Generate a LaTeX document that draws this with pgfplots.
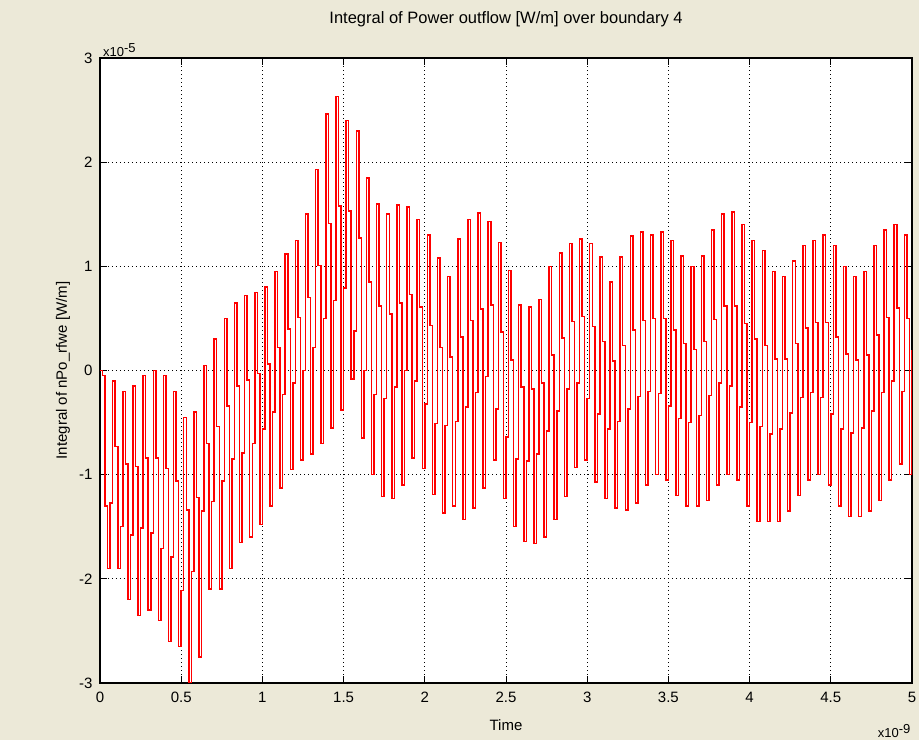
\documentclass[border=0pt]{standalone}
\usepackage{pgfplots}
\pgfplotsset{compat=1.18}
\usepackage{pgfplotstable}
\usepackage{fontspec}
\setmainfont{Liberation Sans}
\definecolor{panel}{HTML}{ECE9D8}
\newcommand{\lbl}{\fontsize{15bp}{18bp}\selectfont}
\newcommand{\ttl}{\fontsize{16.5bp}{19bp}\selectfont}
\newcommand{\smalllbl}{\fontsize{13bp}{15bp}\selectfont}

% Integral of outflow, one sample every 1/64 ns (4 samples per 62.5 ps cycle), in units of 1e-5 W/m
\pgfplotstableread[row sep=\\, header=false]{
0\\ -0.05\\ -1.3\\ -1.9\\
-1.27\\ -0.1\\ -0.73\\ -1.9\\
-1.5\\ -0.2\\ -0.9\\ -2.2\\
-1.58\\ -0.15\\ -0.92\\ -2.35\\
-1.51\\ -0.05\\ -0.84\\ -2.3\\
-1.56\\ 0.0\\ -0.84\\ -2.4\\
-1.71\\ -0.05\\ -0.94\\ -2.6\\
-1.79\\ -0.2\\ -1.06\\ -2.65\\
-2.11\\ -0.45\\ -1.34\\ -3.0\\
-1.93\\ -0.4\\ -1.22\\ -2.75\\
-1.35\\ 0.05\\ -0.7\\ -2.1\\
-1.26\\ 0.3\\ -0.54\\ -2.1\\
-1.06\\ 0.5\\ -0.34\\ -1.9\\
-0.85\\ 0.65\\ -0.15\\ -1.65\\
-0.79\\ 0.72\\ -0.09\\ -1.6\\
-0.7\\ 0.75\\ -0.03\\ -1.48\\
-0.56\\ 0.8\\ 0.06\\ -1.3\\
-0.4\\ 0.95\\ 0.22\\ -1.13\\
-0.23\\ 1.12\\ 0.4\\ -0.95\\
-0.12\\ 1.25\\ 0.51\\ -0.86\\
0.0\\ 1.5\\ 0.7\\ -0.8\\
0.22\\ 1.93\\ 1.01\\ -0.7\\
0.5\\ 2.46\\ 1.41\\ -0.55\\
0.67\\ 2.63\\ 1.58\\ -0.38\\
0.79\\ 2.4\\ 1.53\\ -0.08\\
0.38\\ 2.3\\ 1.27\\ -0.65\\
0.0\\ 1.85\\ 0.85\\ -1.0\\
-0.23\\ 1.6\\ 0.62\\ -1.21\\
-0.27\\ 1.5\\ 0.54\\ -1.23\\
-0.16\\ 1.59\\ 0.65\\ -1.1\\
0.0\\ 1.57\\ 0.73\\ -0.84\\
-0.1\\ 1.45\\ 0.61\\ -0.94\\
-0.32\\ 1.3\\ 0.43\\ -1.19\\
-0.51\\ 1.08\\ 0.22\\ -1.37\\
-0.53\\ 0.9\\ 0.13\\ -1.3\\
-0.49\\ 1.26\\ 0.32\\ -1.43\\
-0.35\\ 1.45\\ 0.48\\ -1.32\\
-0.21\\ 1.51\\ 0.59\\ -1.13\\
-0.06\\ 1.43\\ 0.63\\ -0.86\\
-0.37\\ 1.23\\ 0.37\\ -1.23\\
-0.64\\ 0.96\\ 0.1\\ -1.5\\
-0.85\\ 0.63\\ -0.16\\ -1.64\\
-0.87\\ 0.61\\ -0.18\\ -1.66\\
-0.8\\ 0.68\\ -0.12\\ -1.6\\
-0.58\\ 1.0\\ 0.15\\ -1.43\\
-0.39\\ 1.13\\ 0.31\\ -1.21\\
-0.18\\ 1.22\\ 0.47\\ -0.93\\
-0.12\\ 1.26\\ 0.52\\ -0.86\\
-0.27\\ 1.22\\ 0.42\\ -1.07\\
-0.42\\ 1.09\\ 0.28\\ -1.23\\
-0.56\\ 0.85\\ 0.09\\ -1.32\\
-0.49\\ 1.09\\ 0.24\\ -1.34\\
-0.37\\ 1.29\\ 0.39\\ -1.27\\
-0.25\\ 1.33\\ 0.48\\ -1.1\\
-0.2\\ 1.3\\ 0.5\\ -1.0\\
-0.22\\ 1.33\\ 0.5\\ -1.05\\
-0.34\\ 1.25\\ 0.39\\ -1.2\\
-0.46\\ 1.1\\ 0.26\\ -1.3\\
-0.5\\ 1.0\\ 0.2\\ -1.3\\
-0.43\\ 1.1\\ 0.28\\ -1.25\\
-0.24\\ 1.35\\ 0.49\\ -1.1\\
-0.12\\ 1.5\\ 0.62\\ -1.0\\
-0.15\\ 1.52\\ 0.62\\ -1.05\\
-0.35\\ 1.4\\ 0.45\\ -1.3\\
-0.5\\ 1.25\\ 0.3\\ -1.45\\
-0.54\\ 1.15\\ 0.24\\ -1.45\\
-0.61\\ 0.95\\ 0.11\\ -1.45\\
-0.56\\ 0.9\\ 0.11\\ -1.35\\
-0.41\\ 1.05\\ 0.26\\ -1.2\\
-0.26\\ 1.2\\ 0.41\\ -1.05\\
-0.21\\ 1.25\\ 0.46\\ -1.0\\
-0.26\\ 1.3\\ 0.46\\ -1.1\\
-0.42\\ 1.2\\ 0.32\\ -1.3\\
-0.56\\ 1.0\\ 0.16\\ -1.4\\
-0.6\\ 0.9\\ 0.1\\ -1.4\\
-0.55\\ 0.95\\ 0.15\\ -1.35\\
-0.39\\ 1.2\\ 0.34\\ -1.25\\
-0.21\\ 1.35\\ 0.51\\ -1.05\\
-0.1\\ 1.4\\ 0.6\\ -0.9\\
-0.2\\ 1.3\\ 0.5\\ -1.0\\
0.2\\
}\outflow

\begin{document}
\begin{tikzpicture}[x=1bp,y=1bp]
% window panel behind the plot
\fill[panel] (-100,-57) rectangle (819,683);
\path[use as bounding box] (-100,-57) rectangle (819,683);
\begin{axis}[
  at={(0,0)}, anchor=south west,
  scale only axis, width=812bp, height=625bp,
  xmin=0, xmax=5, ymin=-3, ymax=3,
  xtick={0,0.5,...,5}, ytick={-3,-2,...,3},
  xticklabels={0,0.5,1,1.5,2,2.5,3,3.5,4,4.5,5},
  yticklabels={-3,-2,-1,0,1,2,3},
  axis background/.style={fill=white},
  axis line style={black, line width=1.5bp},
  tick align=inside, major tick length=7bp,
  tick style={black, line width=1bp},
  grid=major,
  major grid style={black, line width=1bp, dash pattern=on 1bp off 3bp},
  ticklabel style={font=\lbl},
  xticklabel style={yshift=-6bp},
  yticklabel style={xshift=-4bp},
  title={Integral of Power outflow [W/m] over boundary 4},
  title style={font=\ttl, at={(rel axis cs:0.5,1)}, anchor=base, yshift=29bp},
  xlabel={Time},
  xlabel style={font=\lbl, at={(rel axis cs:0.5,0)}, anchor=base, yshift=-47bp},
  ylabel={Integral of nPo\_rfwe [W/m]},
  ylabel style={font=\lbl, at={(rel axis cs:0,0.5)}, anchor=center, rotate=0, yshift=37bp},
]
\addplot[const plot, red, line width=1.5bp] table[x expr=\coordindex/64, y index=0] {\outflow};
\end{axis}
% exponent factors of the axes
\node[font=\smalllbl, anchor=base west, inner sep=0pt] at (3,626) {x10$^{\textrm{-5}}$};
\node[font=\smalllbl, anchor=base east, inner sep=0pt] at (811,-55) {x10$^{\textrm{-9}}$};
\end{tikzpicture}
\end{document}
